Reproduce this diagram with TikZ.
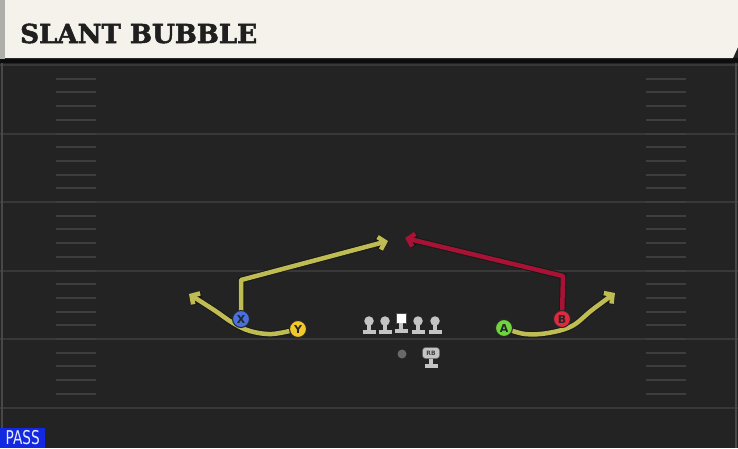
\documentclass[tikz,border=0pt]{standalone}
\usepackage{fontspec}
\newfontfamily\titlefont[BoldFeatures={FakeBold=2}]{DejaVu Serif}
\newfontfamily\badgefont{DejaVu Sans}
\usetikzlibrary{arrows.meta}
\usetikzlibrary{positioning}

\definecolor{fieldbg}{RGB}{35,35,35}
\definecolor{yardcol}{RGB}{56,56,56}
\definecolor{hashcol}{RGB}{62,62,62}
\definecolor{edgecol}{RGB}{72,72,72}
\definecolor{headerbg}{RGB}{245,242,235}
\definecolor{headerside}{RGB}{175,175,170}
\definecolor{passblue}{RGB}{18,40,225}
\definecolor{routeyellow}{RGB}{190,188,82}
\definecolor{routered}{RGB}{168,18,52}
\definecolor{xblue}{RGB}{72,112,222}
\definecolor{yyellow}{RGB}{242,200,42}
\definecolor{agreen}{RGB}{112,212,62}
\definecolor{bred}{RGB}{222,42,62}
\definecolor{olgray}{RGB}{196,196,196}
\definecolor{qbgray}{RGB}{105,105,105}

\pgfdeclarelayer{field}
\pgfdeclarelayer{routes}
\pgfsetlayers{field,routes,main}

\tikzset{
  yard line/.style={draw=yardcol, line width=2pt},
  hash mark/.style={draw=hashcol, line width=2pt},
  receiver/.style={circle, draw=black!85, line width=1pt, minimum size=17pt, inner sep=0pt,
    text=black!85, font=\badgefont\bfseries\fontsize{11}{11}\selectfont},
  route/.style={line width=4.5pt, line join=round, line cap=round, draw=#1,
    -{Straight Barb[length=6pt,width=13pt]},
    preaction={draw=black!90, line width=6.5pt}},
  olhead/.style={circle, fill=olgray, minimum size=9.5pt, inner sep=0pt},
  olcenter/.style={rectangle, fill=white, draw=black!70, line width=0.6pt, minimum size=10pt, inner sep=0pt},
  olstem/.style={draw=olgray, line width=3.8pt},
  olbase/.style={draw=olgray, line width=3.6pt},
}

\begin{document}
\begin{tikzpicture}[x=1pt, y=-1pt]
  \useasboundingbox (0,0) rectangle (738,448);

  % field
  \begin{pgfonlayer}{field}
    \fill[fieldbg] (0,0) rectangle (738,448);
    \foreach \k in {0,...,5}
      \draw[yard line] (0,65+68.5*\k) -- (738,65+68.5*\k);
    \foreach \k in {1,...,24} {
      \draw[hash mark] (56,65+13.7*\k) -- (96,65+13.7*\k);
      \draw[hash mark] (646,65+13.7*\k) -- (686,65+13.7*\k);
    }
    \draw[edgecol, line width=1.5pt] (2,62) -- (2,448);
    \draw[edgecol, line width=1.5pt] (736,62) -- (736,448);

    % header
    \fill[black!95] (0,58) rectangle (738,63);
    \fill[headerside] (0,0) rectangle (5,59);
    \fill[headerbg] (5,0) -- (738,0) -- (738,47) -- (733,58) -- (5,58) -- cycle;
  \end{pgfonlayer}

  \node[anchor=base west, inner sep=0pt, text=black!88,
    font=\titlefont\bfseries\fontsize{22}{22}\selectfont] (title) at (20,43)
    {\resizebox{237pt}{!}{SLANT BUBBLE}};

  % offensive line
  \foreach \x/\n in {369/lt,385/lg,418/rg,435/rt} {
    \node[olhead] (\n) at (\x,321) {};
    \draw[olstem] (\n.center) -- (\x,332);
    \draw[olbase] (\x-6.5,332) -- (\x+6.5,332);
  }
  \node[olcenter] (c) at (401,318) {};
  \draw[olstem] (c.south) -- (401,331);
  \draw[olbase] (394.5,331) -- (407.5,331);

  % backfield
  \node[circle, fill=qbgray, minimum size=9pt, inner sep=0pt] (qb) at (402,354) {};
  \draw[olstem] (431,356) -- (431,366);
  \draw[olbase] (424.5,366) -- (437.5,366);
  \node[rectangle, rounded corners=3pt, fill=olgray, draw=black!60, line width=0.5pt,
    minimum width=17pt, minimum height=11pt, inner sep=0pt, text=black!75,
    font=\badgefont\bfseries\fontsize{6}{6}\selectfont] (rb) at (431,353) {RB};

  % receivers
  \node[receiver, fill=xblue] (X) at (241,319) {X};
  \node[receiver, fill=yyellow] (Y) at (298,329) {Y};
  \node[receiver, fill=agreen] (A) at (504,328) {A};
  \node[receiver, fill=bred] (B) at (562,319) {B};

  \coordinate (xcorner) at (241,280);
  \coordinate (xtip) at (388,241);
  \coordinate (bcorner) at (563,276);
  \coordinate (btip) at (405,238);
  \coordinate (ytip) at (189,294);
  \coordinate (atip) at (615,293);

  % routes
  \begin{pgfonlayer}{routes}
    \draw[route=routeyellow] (X.center) -- (xcorner) -- (xtip);
    \draw[route=routered] (B.center) -- (bcorner) -- (btip);
    \draw[route=routeyellow] plot[smooth, tension=0.6] coordinates
      {(Y.center) (272,334) (250,331) (233,323) (214,310) (ytip)};
    \draw[route=routeyellow] plot[smooth, tension=0.6] coordinates
      {(A.center) (525,334) (548,333) (572,326) (592,310) (atip)};
  \end{pgfonlayer}

  % play type
  \node[fill=passblue, anchor=south west, minimum width=45pt, minimum height=20pt, inner sep=0pt,
    text=white!92!blue, font=\badgefont\fontsize{19}{19}\selectfont] (playtype) at (0,448)
    {\scalebox{0.72}[1]{PASS}};
\end{tikzpicture}
\end{document}
